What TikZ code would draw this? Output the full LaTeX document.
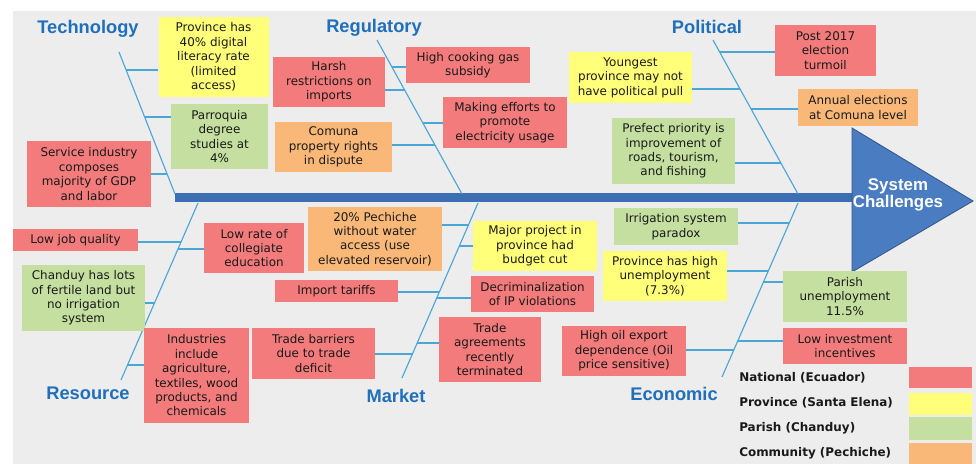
\documentclass[tikz,border=0pt]{standalone}
\usepackage{fontspec}
\setmainfont{DejaVu Sans}
\newfontfamily\headfont{Liberation Sans}
\usetikzlibrary{calc}

\definecolor{natred}{HTML}{F47B7B}
\definecolor{provyellow}{HTML}{FFFF7A}
\definecolor{pargreen}{HTML}{C4DF9F}
\definecolor{comorange}{HTML}{F9B878}
\definecolor{catblue}{HTML}{1F6FBA}
\definecolor{bonecol}{HTML}{4BA6D8}
\definecolor{spineblue}{HTML}{3D6DB3}
\definecolor{headblue}{HTML}{4A7CC2}
\definecolor{bggray}{HTML}{EDEDED}

\begin{document}
\begin{tikzpicture}[x=0.025cm,y=-0.025cm,
    bone/.style={draw=bonecol,line width=0.8pt},
    card/.style={inner sep=0pt,align=center,text=black!90,font=\fontsize{8.5}{10.25}\selectfont},
    nat/.style={card,fill=natred},
    prov/.style={card,fill=provyellow},
    par/.style={card,fill=pargreen},
    com/.style={card,fill=comorange},
    sz/.style 2 args={minimum width={#1*0.025cm},minimum height={#2*0.025cm}},
    cat/.style={font=\headfont\bfseries\fontsize{13}{15}\selectfont,text=catblue},
    legtext/.style={anchor=west,inner sep=0pt,font=\bfseries\fontsize{8.5}{10}\selectfont,text=black!90}]
  \useasboundingbox (0,0) rectangle (976,464);
  \fill[bggray] (13,11) rectangle (976,464);

  % spine and head
  \fill[spineblue] (175,193) rectangle (856,202);
  \filldraw[fill=headblue,draw=headblue!70!black,line width=0.6pt] (852,128) -- (973,201) -- (852,272) -- cycle;
  \node[font=\headfont\bfseries\fontsize{12}{11}\selectfont,text=white,align=center] (sys) at (898,195) {System\\Challenges};

  % bones
  \coordinate (tec1) at (119,52);  \coordinate (tec2) at (175,194);
  \coordinate (reg1) at (377,40);  \coordinate (reg2) at (462,194);
  \coordinate (pol1) at (713,40);  \coordinate (pol2) at (798,194);
  \coordinate (res1) at (198,203); \coordinate (res2) at (121,380);
  \coordinate (mkt1) at (478,203); \coordinate (mkt2) at (402,378);
  \coordinate (eco1) at (798,203); \coordinate (eco2) at (722,377);
  \foreach \a in {tec,reg,pol,res,mkt,eco} \draw[bone] (\a1) -- (\a2);

  \node[cat] (tech) at (88,29) {Technology};
  \node[cat] (regu) at (374,28) {Regulatory};
  \node[cat] (poli) at (707,27) {Political};
  \node[cat] (reso) at (88,393) {Resource};
  \node[cat] (mark) at (396,396) {Market};
  \node[cat] (econ) at (674,394) {Economic};

  % technology
  \node[prov,sz={110}{80}] (ty) at (213.5,57) {Province has\\40\% digital\\literacy rate\\(limited\\access)};
  \node[par,sz={97}{65}] (tg) at (219.5,136.5) {Parroquia\\degree\\studies at\\4\%};
  \node[nat,sz={124}{66}] (tr) at (89,174) {Service industry\\composes\\majority of GDP\\and labor};

  % regulatory
  \node[nat,sz={112}{50}] (rr1) at (329,82) {Harsh\\restrictions on\\imports};
  \node[nat,sz={124}{36}] (rr2) at (468,65) {High cooking gas\\subsidy};
  \node[nat,sz={124}{51}] (rr3) at (505,122.5) {Making efforts to\\promote\\electricity usage};
  \node[com,sz={117}{50}] (ro) at (333.5,147) {Comuna\\property rights\\in dispute};

  % political
  \node[nat,sz={101}{51}] (pr) at (825.5,50.5) {Post 2017\\election\\turmoil};
  \node[prov,sz={123}{51}] (py) at (630.5,77.5) {Youngest\\province may not\\have political pull};
  \node[com,sz={120}{37}] (po) at (858,107.5) {Annual elections\\at Comuna level};
  \node[par,sz={123}{66}] (pg) at (673.5,151) {Prefect priority is\\improvement of\\roads, tourism,\\and fishing};

  % resource
  \node[nat,sz={125}{22}] (sr1) at (75.5,240) {Low job quality};
  \node[nat,sz={100}{50}] (sr2) at (254,248) {Low rate of\\collegiate\\education};
  \node[par,sz={123}{66}] (sg) at (83.5,298) {Chanduy has lots\\of fertile land but\\no irrigation\\system};
  \node[nat,sz={105}{95}] (sr3) at (196.5,375.5) {Industries\\include\\agriculture,\\textiles, wood\\products, and\\chemicals};

  % market
  \node[com,sz={134}{64}] (mo) at (375,239) {20\% Pechiche\\without water\\access (use\\elevated reservoir)};
  \node[prov,sz={124}{50}] (my) at (535,246) {Major project in\\province had\\budget cut};
  \node[nat,sz={123}{22}] (mr1) at (336.5,291) {Import tariffs};
  \node[nat,sz={123}{36}] (mr2) at (532.5,294) {Decriminalization\\of IP violations};
  \node[nat,sz={123}{51}] (mr3) at (313.5,353.5) {Trade barriers\\due to trade\\deficit};
  \node[nat,sz={102}{65}] (mr4) at (490,349.5) {Trade\\agreements\\recently\\terminated};

  % economic
  \node[par,sz={124}{37}] (eg1) at (676,226.5) {Irrigation system\\paradox};
  \node[prov,sz={124}{50}] (ey) at (665,276) {Province has high\\unemployment\\(7.3\%)};
  \node[par,sz={124}{51}] (eg2) at (845,296.5) {Parish\\unemployment\\11.5\%};
  \node[nat,sz={124}{50}] (er1) at (624,351) {High oil export\\dependence (Oil\\price sensitive)};
  \node[nat,sz={124}{36}] (er2) at (845,346) {Low investment\\incentives};

  % ribs
  \foreach \x/\y/\c/\n in {126/70/k1/ty.west, 145/117/k2/tg.west, 167/174/k3/tr.east,
      392/67/k4/rr2.west, 405/90/k5/rr1.east, 423/123/k6/rr3.west, 435/145/k7/ro.east,
      720/52/k8/pr.west, 740/89/k9/py.east, 751/109/k10/po.west, 781/163/k11/pg.east,
      181/242/k12/sr1.east, 178/249/k13/sr2.west, 155/303/k14/sg.east, 128/365/k15/sr3.west,
      468/225/k16/mo.east, 459/246/k17/my.west, 439/292/k18/mr1.east, 437/298/k19/mr2.west,
      417/343/k20/mr4.west, 413/354/k21/mr3.east,
      789/223/k22/eg1.east, 768/271/k23/ey.east, 764/282/k24/eg2.west, 738/341/k25/er2.west,
      734/350/k26/er1.east}
    \draw[bone] (\x,\y) coordinate (\c) -- (\c -| \n);

  % legend
  \node[legtext] (l1) at (739,378) {National (Ecuador)};
  \node[legtext] (l2) at (739,403) {Province (Santa Elena)};
  \node[legtext] (l3) at (739,428) {Parish (Chanduy)};
  \node[legtext] (l4) at (739,453) {Community (Pechiche)};
  \node[nat,sz={63}{21}] (s1) at (940.5,377.5) {};
  \node[prov,sz={63}{22}] (s2) at (940.5,404) {};
  \node[par,sz={63}{23}] (s3) at (940.5,428.5) {};
  \node[com,sz={63}{21}] (s4) at (940.5,453.5) {};
\end{tikzpicture}
\end{document}
